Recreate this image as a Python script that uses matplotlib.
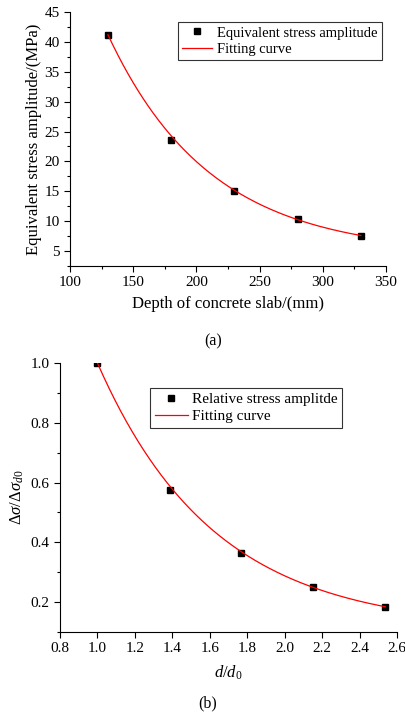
import numpy as np
import matplotlib
matplotlib.use("Agg")
import matplotlib.pyplot as plt
from matplotlib.ticker import MultipleLocator

plt.rcParams['font.family'] = ['Liberation Serif', 'DejaVu Serif']
plt.rcParams['mathtext.fontset'] = 'custom'
plt.rcParams['mathtext.rm'] = 'Liberation Serif'
plt.rcParams['mathtext.it'] = 'Liberation Serif:italic'

# data (a)
depth = [130, 180, 230, 280, 330]
stress = [41.2, 23.6, 15.0, 10.4, 7.6]
# exponential fit y = y0 + A*exp(-(x - x0)/t)
fit_a = dict(y0=4.5, A=36.7, x0=130, t=81.0)

# data (b)
ratio_d = [1.0, 1.385, 1.769, 2.154, 2.538]
ratio_s = [1.0, 0.575, 0.363, 0.252, 0.185]
fit_b = dict(y0=0.109, A=0.891, x0=1.0, t=0.623)


def fit_curve(x, p):
    return p['y0'] + p['A'] * np.exp(-(x - p['x0']) / p['t'])


fig = plt.figure(figsize=(4.06, 7.16), dpi=100)
W, H = 406, 716

# top chart
ax1 = fig.add_axes([70 / W, 1 - 266 / H, (386 - 70) / W, (266 - 12) / H])
xs = np.linspace(depth[0], depth[-1], 200)
ax1.plot(depth, stress, 's', color='black', ms=5, label='Equivalent stress amplitude')
ax1.plot(xs, fit_curve(xs, fit_a), '-', color='red', lw=0.9, label='Fitting curve')
ax1.set_xlim(100, 350)
ax1.set_ylim(2.5, 45)
ax1.xaxis.set_major_locator(MultipleLocator(50))
ax1.xaxis.set_minor_locator(MultipleLocator(25))
ax1.yaxis.set_major_locator(MultipleLocator(5))
ax1.yaxis.set_minor_locator(MultipleLocator(2.5))
ax1.set_xlabel('Depth of concrete slab/(mm)', fontsize=12, labelpad=5)
ax1.set_ylabel('Equivalent stress amplitude/(MPa)', fontsize=12, labelpad=2)
leg1 = ax1.legend(loc='upper left', bbox_to_anchor=((178 - 70) / 316, (266 - 22) / 254),
                  fontsize=10.5, frameon=True, fancybox=False, edgecolor='black',
                  borderpad=0.3, handlelength=2.0, handletextpad=0.4,
                  labelspacing=0.2, borderaxespad=0.0)
leg1.get_frame().set_linewidth(0.8)
fig.text(213 / W, 1 - 341 / H, '(a)', ha='center', va='center', fontsize=11.5)

# bottom chart
ax2 = fig.add_axes([60 / W, 1 - 632 / H, (397 - 60) / W, (632 - 363) / H])
xs2 = np.linspace(ratio_d[0], ratio_d[-1], 200)
ax2.plot(ratio_d, ratio_s, 's', color='black', ms=5, label='Relative stress amplitde')
ax2.plot(xs2, fit_curve(xs2, fit_b), '-', color='red', lw=0.9, label='Fitting curve')
ax2.set_xlim(0.8, 2.6)
ax2.set_ylim(0.1, 1.0)
ax2.xaxis.set_major_locator(MultipleLocator(0.2))
ax2.yaxis.set_major_locator(MultipleLocator(0.2))
ax2.yaxis.set_minor_locator(MultipleLocator(0.1))
ax2.set_xlabel(r'$d/d_0$', fontsize=12, labelpad=6)
ax2.set_ylabel(r'$\Delta\sigma/\Delta\sigma_{d0}$', fontsize=12, labelpad=3)
leg2 = ax2.legend(loc='upper left', bbox_to_anchor=((150 - 60) / 337, (632 - 388) / 269),
                  fontsize=11, frameon=True, fancybox=False, edgecolor='black',
                  borderpad=0.3, handlelength=2.2, handletextpad=0.25,
                  labelspacing=0.2, borderaxespad=0.0)
leg2.get_frame().set_linewidth(0.8)
fig.text(208 / W, 1 - 703 / H, '(b)', ha='center', va='center', fontsize=11.5)

for ax in (ax1, ax2):
    ax.spines['top'].set_visible(False)
    ax.spines['right'].set_visible(False)
    ax.tick_params(which='major', direction='out', length=4, width=0.8, labelsize=11)
    ax.tick_params(which='minor', direction='out', length=2.5, width=0.8)

plt.savefig('out.png', dpi=100)
